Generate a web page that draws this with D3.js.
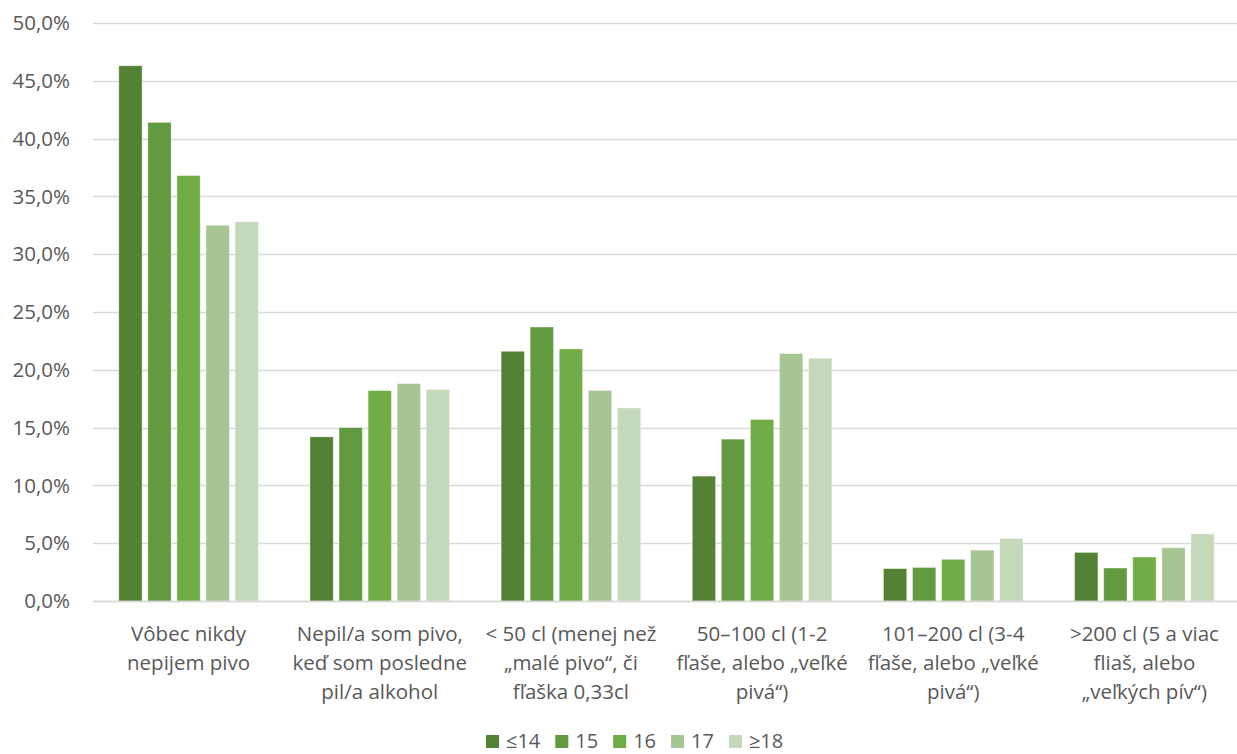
<!DOCTYPE html>
<html><head><meta charset="utf-8">
<script src="https://cdn.jsdelivr.net/npm/d3@7"></script>
<style>body{margin:0;background:#fff;} text{font-family:"Open Sans",Lato,sans-serif;}</style>
</head><body><svg id="c" width="1237" height="754"></svg>
<script>
const categories = [
  "Vôbec nikdy\nnepijem pivo",
  "Nepil/a som pivo,\nkeď som posledne\npil/a alkohol",
  "< 50 cl (menej než\n„malé pivo“, či\nfľaška 0,33cl",
  "50–100 cl (1-2\nfľaše, alebo „veľké\npivá“)",
  "101–200 cl (3-4\nfľaše, alebo „veľké\npivá“)",
  ">200 cl (5 a viac\nfliaš, alebo\n„veľkých pív“)"
];
const seriesNames = ["≤14", "15", "16", "17", "≥18"];
const s14 = [46.3, 14.2, 21.6, 10.8, 2.8, 4.2];
const s15 = [41.4, 15.0, 23.7, 14.0, 2.9, 2.85];
const s16 = [36.8, 18.2, 21.8, 15.7, 3.6, 3.8];
const s17 = [32.5, 18.8, 18.2, 21.4, 4.4, 4.6];
const s18 = [32.8, 18.3, 16.7, 21.0, 5.4, 5.8];
const colors = ["#548235", "#629A3F", "#70AD47", "#A5C593", "#C4D8BA"];
const yTicks = [0, 5, 10, 15, 20, 25, 30, 35, 40, 45, 50];

(function(){
const series = [s14, s15, s16, s17, s18];
const svg = d3.select("#c");
const pl = 93, pr = 1240, pt = 23, pb = 601;
const fs = 20.5;
const x = d3.scaleBand().domain(categories).range([pl, pr]).paddingInner(0).paddingOuter(0);
const y = d3.scaleLinear().domain([0, 50]).range([pb, pt]);
const groupW = x.bandwidth() * 0.73;
const xi = d3.scaleBand().domain(seriesNames).range([0, groupW]).paddingInner(0.2);

svg.append("g").selectAll("line").data(yTicks).join("line")
  .attr("x1", pl).attr("x2", pr)
  .attr("y1", d => Math.round(y(d)) + 0.5).attr("y2", d => Math.round(y(d)) + 0.5)
  .attr("stroke", "#d9d9d9").attr("stroke-width", 1.3);

svg.append("g").selectAll("text").data(yTicks).join("text")
  .attr("x", 70).attr("y", d => y(d)).attr("dy", "0.35em")
  .attr("text-anchor", "end").attr("fill", "#595959").attr("font-size", fs)
  .text(d => d.toFixed(1).replace(".", ",") + "%");

series.forEach((vals, si) => {
  svg.append("g").selectAll("rect").data(vals).join("rect")
    .attr("x", (d, i) => x(categories[i]) + (x.bandwidth() - groupW) / 2 + xi(seriesNames[si]))
    .attr("width", xi.bandwidth())
    .attr("y", d => y(d))
    .attr("height", d => pb - y(d))
    .attr("fill", colors[si])
    .attr("stroke", "#ffffff").attr("stroke-opacity", 0.4).attr("stroke-width", 0.8);
});

svg.append("line").attr("x1", pl).attr("x2", pr).attr("y1", pb + 0.5).attr("y2", pb + 0.5)
  .attr("stroke", "#d9d9d9").attr("stroke-width", 1.3);

const cat = svg.append("g").selectAll("text").data(categories).join("text")
  .attr("text-anchor", "middle").attr("fill", "#595959").attr("font-size", fs)
  .attr("x", d => x(d) + x.bandwidth() / 2);
cat.each(function(d) {
  const lines = d.split("\n");
  d3.select(this).selectAll("tspan").data(lines).join("tspan")
    .attr("x", x(d) + x.bandwidth() / 2)
    .attr("y", (l, i) => 641 + i * 29)
    .text(l => l);
});

const lg = svg.append("g");
let lx = 486;
seriesNames.forEach((n, i) => {
  lg.append("rect").attr("x", lx).attr("y", 735).attr("width", 13).attr("height", 13).attr("fill", colors[i]);
  const t = lg.append("text").attr("x", lx + 20).attr("y", 748).attr("fill", "#595959").attr("font-size", 20).text(n);
  const w = t.node().getComputedTextLength();
  lx += 20 + w + 15;
});
})();
</script></body></html>
